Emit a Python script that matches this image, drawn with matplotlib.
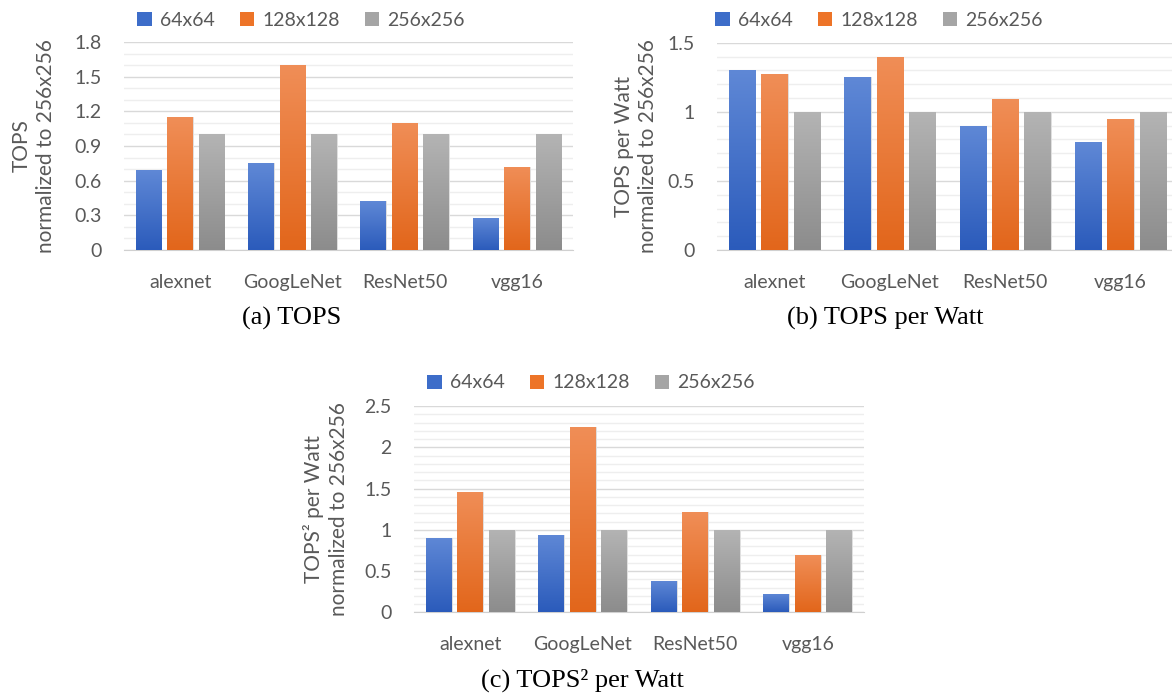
import numpy as np
import matplotlib
matplotlib.use("Agg")
import matplotlib.pyplot as plt
from matplotlib.colors import LinearSegmentedColormap
from matplotlib.patches import Patch

categories = ["alexnet", "GoogLeNet", "ResNet50", "vgg16"]
series_names = ["64x64", "128x128", "256x256"]

tops_64 = [0.69, 0.75, 0.42, 0.28]
tops_128 = [1.15, 1.60, 1.10, 0.72]
tops_256 = [1.00, 1.00, 1.00, 1.00]

tpw_64 = [1.30, 1.25, 0.90, 0.78]
tpw_128 = [1.27, 1.40, 1.09, 0.95]
tpw_256 = [1.00, 1.00, 1.00, 1.00]

t2pw_64 = [0.90, 0.94, 0.38, 0.22]
t2pw_128 = [1.46, 2.25, 1.21, 0.69]
t2pw_256 = [1.00, 1.00, 1.00, 1.00]

W, H = 1172, 698
fig = plt.figure(figsize=(W / 100, H / 100), dpi=100)
fig.patch.set_facecolor("white")

TXT = "#595959"
SANS = ["Lato", "DejaVu Sans"]
SERIF = ["Liberation Serif", "DejaVu Serif"]

grad_cols = [("#5F88D6", "#2B5BBB"), ("#F08E57", "#E2661B"), ("#B4B4B4", "#8C8C8C")]
legend_cols = ["#3D6DC9", "#ED7428", "#A5A5A5"]


def px_axes(l, r, t, b):
    return fig.add_axes([l / W, (H - b) / H, (r - l) / W, (b - t) / H])


def draw_panel(ax, data, ymax, major):
    x = np.arange(len(categories))
    width = 0.228
    step = 0.28
    ax.set_xlim(-0.5, len(categories) - 0.5)
    ax.set_ylim(0, ymax)
    for i, vals in enumerate(data):
        bars = ax.bar(x + (i - 1) * step, vals, width, color=legend_cols[i], zorder=3,
                      edgecolor="#E0E0E0", linewidth=0.7)
        cmap = LinearSegmentedColormap.from_list("g%d" % i, [grad_cols[i][1], grad_cols[i][0]])
        grad = np.linspace(0, 1, 256).reshape(-1, 1)
        for b in bars:
            bx, by = b.get_x(), b.get_y()
            bw, bh = b.get_width(), b.get_height()
            im = ax.imshow(grad, cmap=cmap, origin="lower", aspect="auto",
                           extent=[bx, bx + bw, by, by + bh], zorder=4, interpolation="bilinear")
            im.set_clip_path(b)
    ax.set_xlim(-0.5, len(categories) - 0.5)
    ax.set_ylim(0, ymax)
    ax.set_yticks(np.round(np.arange(0, ymax + 1e-9, major), 2))
    ax.set_yticks(np.round(np.arange(0, ymax + 1e-9, 0.1), 2), minor=True)
    ax.yaxis.set_major_formatter(matplotlib.ticker.FuncFormatter(lambda v, p: "%g" % v))
    ax.grid(axis="y", which="major", color="#D9D9D9", linewidth=1.0, zorder=0)
    ax.grid(axis="y", which="minor", color="#EEEEEE", linewidth=1.0, zorder=0)
    ax.set_xticks(x)
    ax.set_xticklabels(categories)
    for s in ["top", "right", "left"]:
        ax.spines[s].set_visible(False)
    ax.spines["bottom"].set_color("#D0D0D0")
    ax.tick_params(axis="both", which="both", length=0, colors=TXT, labelsize=14)
    ax.tick_params(axis="x", pad=17)
    ax.tick_params(axis="y", pad=16)
    for lab in ax.get_xticklabels() + ax.get_yticklabels():
        lab.set_family(SANS)
    ax.set_facecolor("none")


def add_ylabel(cx, cy, text):
    fig.text(cx / W, 1 - cy / H, text, rotation=90, ha="center", va="center",
             multialignment="center", color=TXT, fontsize=15, family=SANS, linespacing=1.3)


def add_legend(cx, cy):
    handles = [Patch(facecolor=c, edgecolor="none") for c in legend_cols]
    fig.legend(handles, series_names, loc="center", bbox_to_anchor=(cx / W, 1 - cy / H),
               ncol=3, frameon=False, handlelength=0.75, handleheight=0.75,
               handletextpad=0.4, columnspacing=1.3,
               prop={"family": SANS, "size": 14}, labelcolor=TXT)


ax_a = px_axes(124, 573, 42, 250)
draw_panel(ax_a, [tops_64, tops_128, tops_256], 1.8, 0.3)
add_ylabel(34, 146, "TOPS\nnormalized to 256x256")
add_legend(301, 20)
fig.text(292 / W, 1 - 318 / H, "(a) TOPS", ha="center", va="center", fontsize=19,
         family=SERIF, color="black")

ax_b = px_axes(717, 1178, 42.7, 250)
draw_panel(ax_b, [tpw_64, tpw_128, tpw_256], 1.5, 0.5)
add_ylabel(636, 146, "TOPS per Watt\nnormalized to 256x256")
add_legend(879, 20)
fig.text(885 / W, 1 - 318 / H, "(b) TOPS per Watt", ha="center", va="center", fontsize=19,
         family=SERIF, color="black")

ax_c = px_axes(414, 864, 406, 612.3)
draw_panel(ax_c, [t2pw_64, t2pw_128, t2pw_256], 2.5, 0.5)
add_ylabel(326, 509, "TOPS\u00b2 per Watt\nnormalized to 256x256")
add_legend(591, 383)
fig.text(582 / W, 1 - 680 / H, "(c) TOPS\u00b2 per Watt", ha="center", va="center", fontsize=19,
         family=SERIF, color="black")

fig.savefig("out.png", dpi=100, facecolor="white")
